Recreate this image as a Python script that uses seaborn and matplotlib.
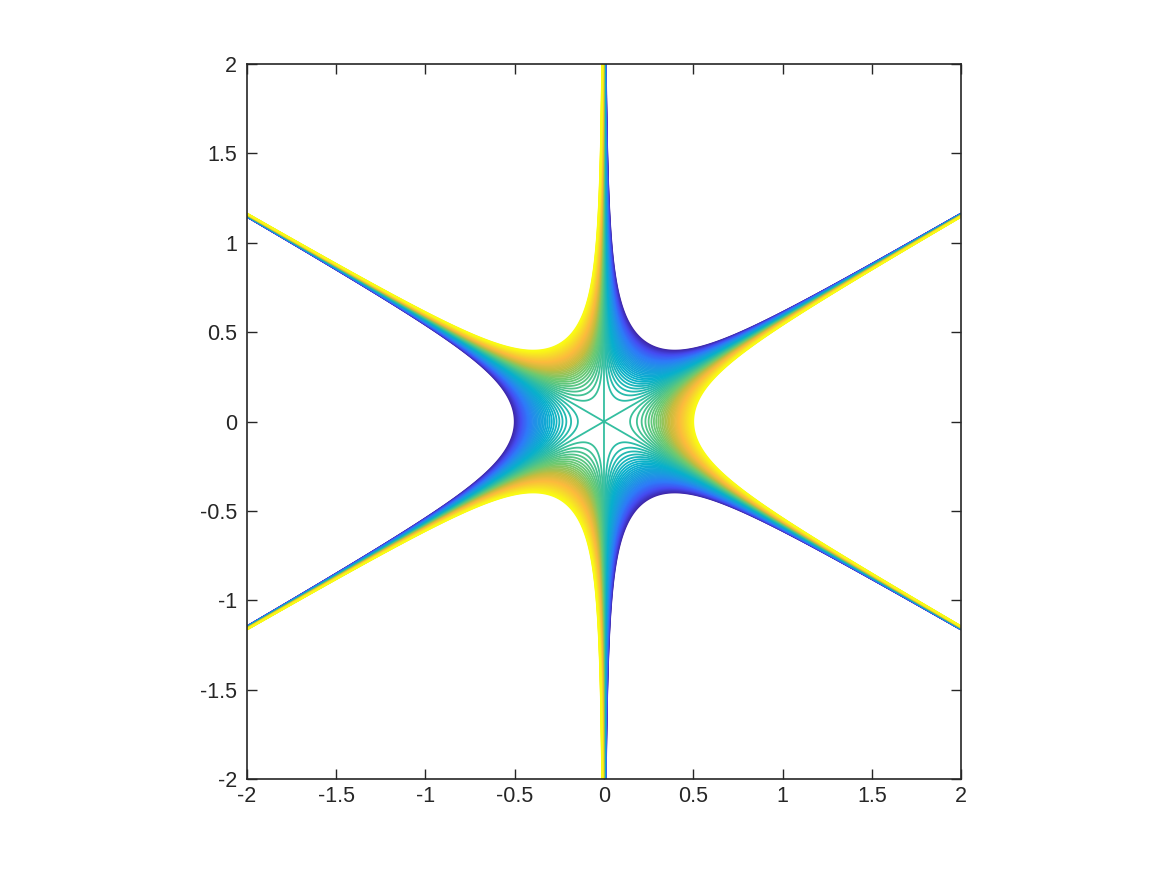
import numpy as np
import matplotlib
matplotlib.use("Agg")
import matplotlib.pyplot as plt
from matplotlib.colors import LinearSegmentedColormap
import seaborn as sns

# Monkey saddle z = x^3 - 3xy^2, contoured on [-2, 2] x [-2, 2]
x_range = [-2, 2]
y_range = [-2, 2]
grid_points = 1200
level_min = -0.125
level_max = 0.125
n_levels = 81
tick_values = [-2, -1.5, -1, -0.5, 0, 0.5, 1, 1.5, 2]
tick_labels = ["-2", "-1.5", "-1", "-0.5", "0", "0.5", "1", "1.5", "2"]

# parula-like colormap
parula_stops = [
    (0.242, 0.150, 0.660),
    (0.272, 0.300, 0.950),
    (0.180, 0.480, 0.975),
    (0.110, 0.600, 0.880),
    (0.030, 0.690, 0.800),
    (0.200, 0.745, 0.630),
    (0.430, 0.790, 0.440),
    (0.780, 0.740, 0.240),
    (0.990, 0.730, 0.240),
    (0.970, 0.860, 0.170),
    (0.977, 0.984, 0.081),
]
parula = LinearSegmentedColormap.from_list("parula", parula_stops)

sns.set_style("ticks")
plt.rcParams["font.family"] = ["Liberation Sans", "DejaVu Sans"]
plt.rcParams["axes.unicode_minus"] = False

xs = np.linspace(x_range[0], x_range[1], grid_points)
ys = np.linspace(y_range[0], y_range[1], grid_points)
X, Y = np.meshgrid(xs, ys)
Z = X**3 - 3 * X * Y**2
levels = np.linspace(level_min, level_max, n_levels)

fig = plt.figure(figsize=(11.66, 8.75), dpi=100)
ax = fig.add_axes([0.2118, 0.1097, 0.6124, 0.8171])
ax.contour(X, Y, Z, levels=levels, cmap=parula, linewidths=1.3)

ax.set_xlim(x_range)
ax.set_ylim(y_range)
ax.set_xticks(tick_values)
ax.set_xticklabels(tick_labels)
ax.set_yticks(tick_values)
ax.set_yticklabels(tick_labels)
ax.tick_params(direction="in", length=7, width=1, labelsize=15.5, colors="#262626",
               top=True, right=True)
ax.tick_params(axis="x", pad=5)
ax.tick_params(axis="y", pad=7)
for s in ax.spines.values():
    s.set_linewidth(1.2)
    s.set_color("#262626")

fig.savefig("out.png", dpi=100, facecolor="white")
